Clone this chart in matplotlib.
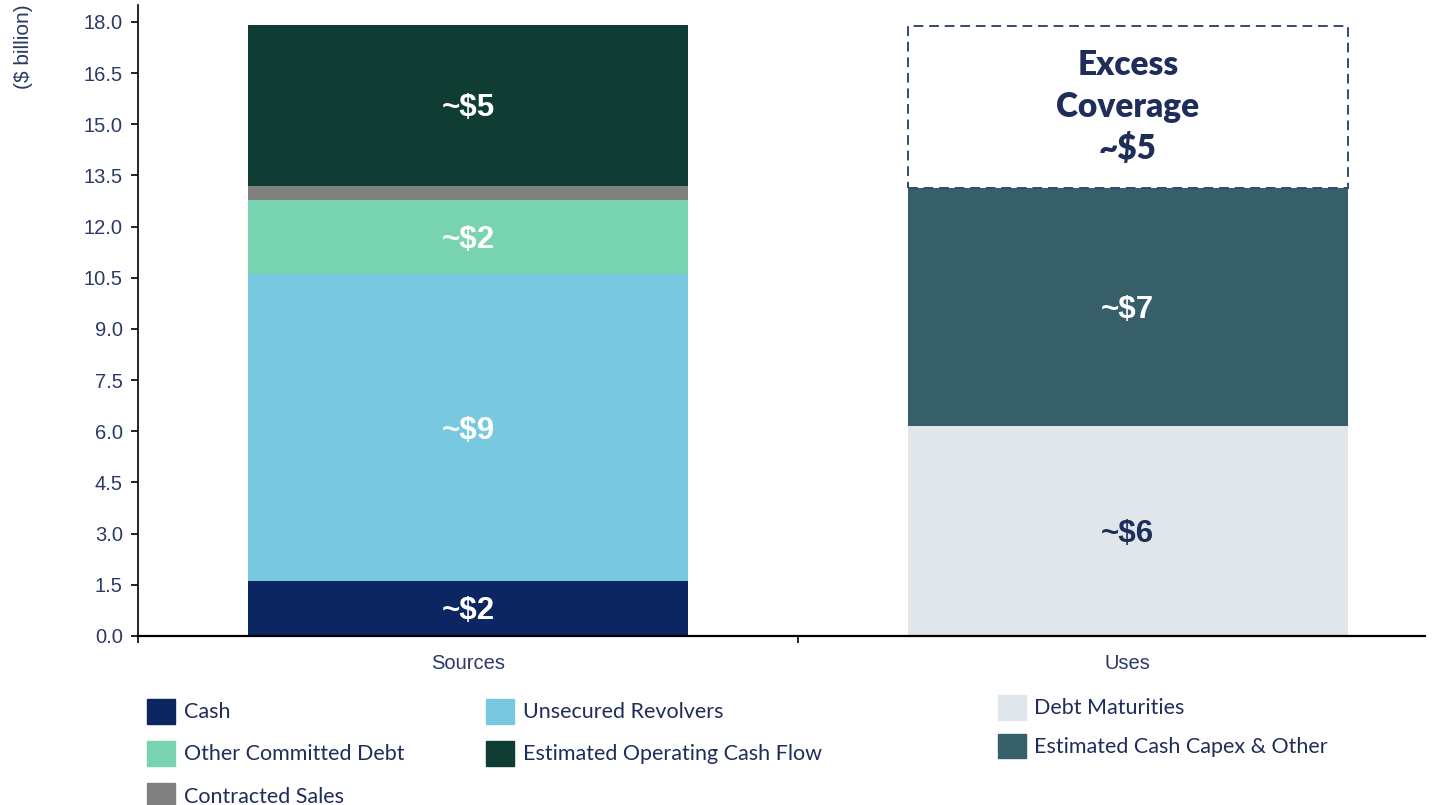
import matplotlib
matplotlib.use("Agg")
import matplotlib.pyplot as plt
from matplotlib.patches import Patch

# data ($ billion)
categories = ["Sources", "Uses"]
source_names = ["Cash", "Unsecured Revolvers", "Other Committed Debt",
                "Contracted Sales", "Estimated Operating Cash Flow"]
source_vals = [1.6, 9.0, 2.18, 0.41, 4.72]
source_labels = ["~$2", "~$9", "~$2", "", "~$5"]
source_colors = ["#0b2660", "#78c8e0", "#78d3b0", "#808080", "#0f3d33"]

use_names = ["Debt Maturities", "Estimated Cash Capex & Other"]
use_vals = [6.16, 6.97]
use_labels = ["~$6", "~$7"]
use_colors = ["#e1e6ea", "#375f69"]
use_text_colors = ["#1f2d5a", "white"]

excess_val = 4.75
excess_label = "Excess\nCoverage\n~$5"

navy = "#1f2d5a"
tick_color = "#2b3a67"

fig = plt.figure(figsize=(14.42, 8.05), dpi=100)
ax = fig.add_axes([0.0957, 0.21, 0.8923, 0.784])

width = 0.667
bottom = 0.0
for val, lab, col in zip(source_vals, source_labels, source_colors):
    ax.bar(0, val, width, bottom=bottom, color=col, linewidth=0)
    if lab:
        ax.text(0, bottom + val / 2 - 0.08, lab, ha="center", va="center",
                color="white", fontsize=22.5, fontweight="bold",
                family="Liberation Sans")
    bottom += val

bottom = 0.0
for val, lab, col, tc in zip(use_vals, use_labels, use_colors, use_text_colors):
    ax.bar(1, val, width, bottom=bottom, color=col, linewidth=0)
    ax.text(1, bottom + val / 2 - 0.08, lab, ha="center", va="center",
            color=tc, fontsize=22.5, fontweight="bold",
            family="Liberation Sans")
    bottom += val

ax.bar(1, excess_val, width, bottom=bottom, color="white",
       edgecolor="#2f4a7a", linewidth=1.4, linestyle=(0, (5, 3)))
ax.text(1, bottom + excess_val / 2, excess_label, ha="center", va="center",
        color=navy, fontsize=24, fontweight="heavy", family="Lato",
        linespacing=1.38)

ax.set_xlim(-0.5, 1.45)
ax.set_ylim(0, 18.5)
ax.set_yticks([i * 1.5 for i in range(13)])
ax.set_yticklabels([f"{i * 1.5:.1f}" for i in range(13)])
ax.set_xticks([-0.5, 0.5])
ax.set_xticklabels([])
ax.set_xticks([0, 1], minor=True)
ax.set_xticklabels(categories, minor=True)
ax.tick_params(axis="x", which="minor", length=0, pad=13,
               labelsize=14.5, labelcolor=tick_color)
ax.tick_params(axis="x", which="major", length=5, width=1.2)
ax.tick_params(axis="y", length=5, width=1.2, labelsize=14.5,
               labelcolor=tick_color, pad=6)
for t in ax.get_yticklabels() + ax.get_xticklabels(minor=True):
    t.set_family("Liberation Sans")
ax.spines["top"].set_visible(False)
ax.spines["right"].set_visible(False)
ax.spines["left"].set_linewidth(1.2)
ax.spines["bottom"].set_linewidth(1.6)

fig.text(0.016, 0.995, "($ billion)", rotation=90, ha="center", va="top",
         fontsize=15, color=tick_color, family="Liberation Sans")

# legends
order = [0, 2, 3, 1, 4]
src_handles = [Patch(color=source_colors[i], label=source_names[i]) for i in order]
leg_kw = dict(frameon=False, prop={"family": "Lato", "size": 15.5},
              labelcolor=navy, handlelength=1.3, handleheight=1.4,
              handletextpad=0.4, borderaxespad=0, borderpad=0)
fig.legend(handles=src_handles, ncol=2, loc="upper left",
           bbox_to_anchor=(0.102, 0.132), labelspacing=0.8,
           columnspacing=3.8, **leg_kw)
use_handles = [Patch(color=c, label=n) for c, n in zip(use_colors, use_names)]
fig.legend(handles=use_handles, loc="upper left",
           bbox_to_anchor=(0.692, 0.137), labelspacing=0.65, **leg_kw)

fig.savefig("out.png", dpi=100)
